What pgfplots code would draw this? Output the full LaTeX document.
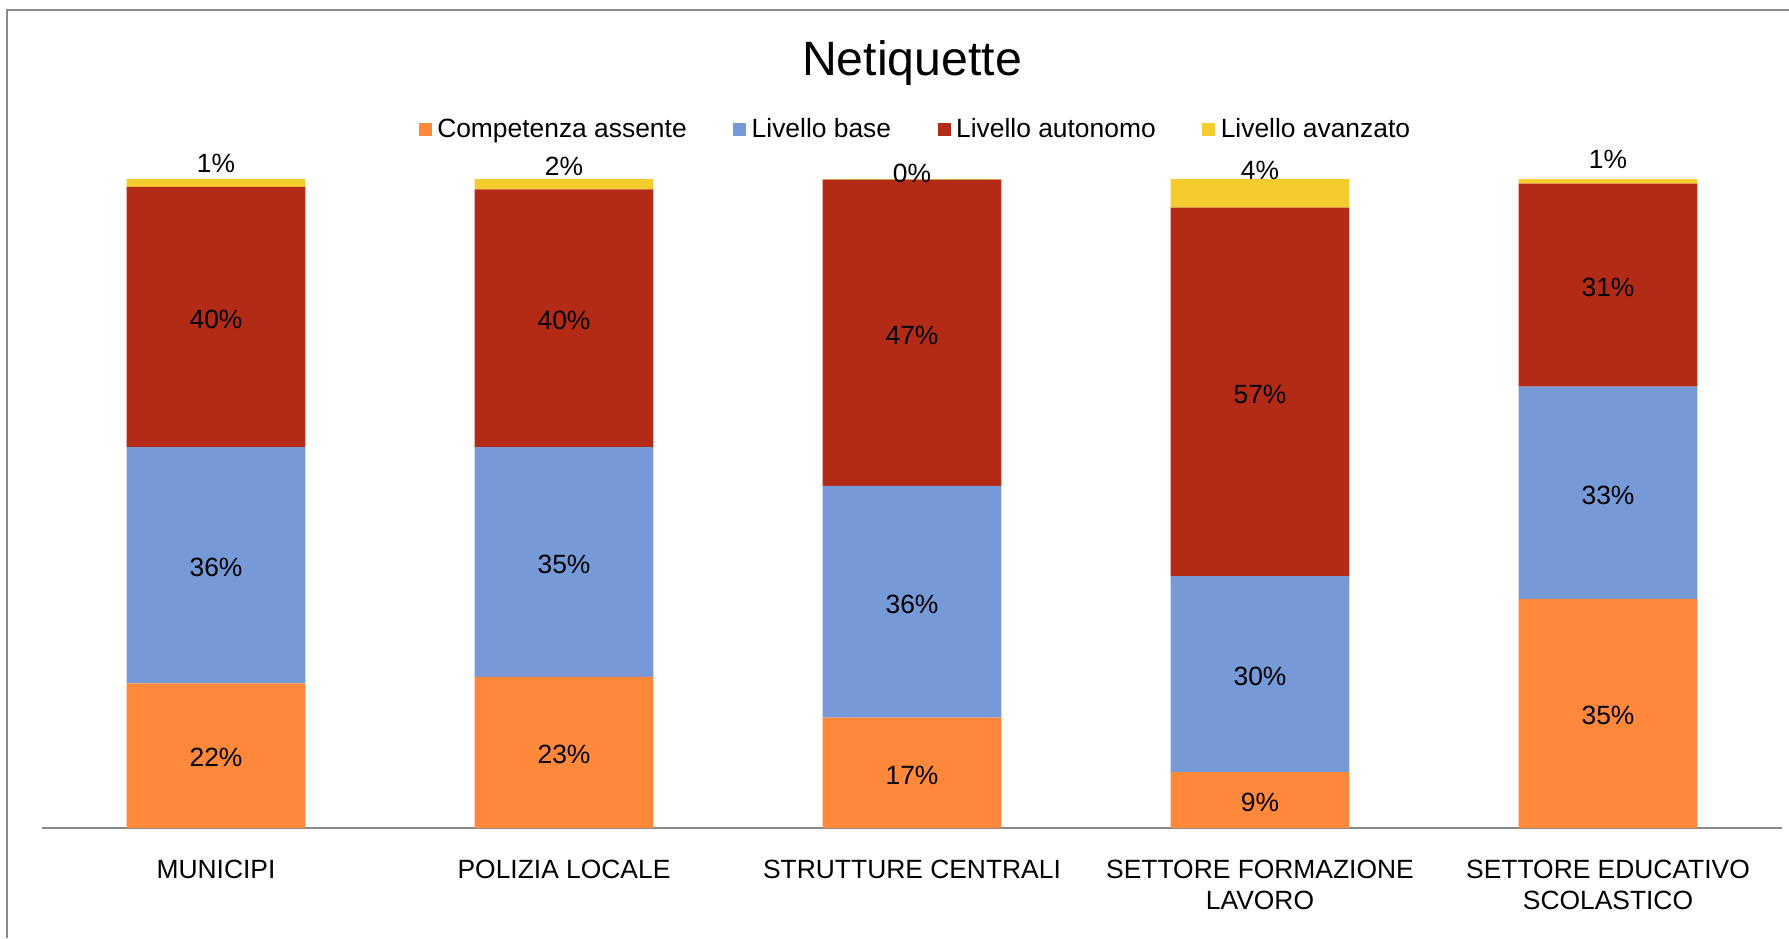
\documentclass[border=0pt]{standalone}
\usepackage{fontspec}
\setmainfont{Liberation Sans}
\usepackage{pgfplots}
\usepackage{pgfplotstable}
\pgfplotsset{compat=1.18}
\definecolor{cassente}{HTML}{FF883B}
\definecolor{cbase}{HTML}{7699D8}
\definecolor{cauto}{HTML}{B32B17}
\definecolor{cavanz}{HTML}{F4CC2E}
\definecolor{linegray}{HTML}{898989}

% x: category, a: assente, b: base, c: autonomo, d: avanzato
% dy: where the top label sits above the bar (pt)
\pgfplotstableread{
x a b c d dy
0 22.3 36.4 40.1 1.2 3.5
1 23.3 35.4 39.7 1.6 1.65
2 17.0 35.7 47.2 0.1 -1.5
3 8.6 30.2 56.8 4.4 -0.35
4 35.3 32.7 31.3 0.7 5.5
}\netiq

\begin{document}
\begin{tikzpicture}
\begin{axis}[
  at={(21pt,-414pt)}, anchor=south west,
  scale only axis, width=870pt, height=324.5pt,
  xmin=-0.5, xmax=4.5, ymin=0, ymax=100,
  ybar stacked, bar width=0.514,
  axis y line=none, axis x line*=bottom,
  x axis line style={-, draw=linegray, line width=1pt},
  xtick={0,...,4}, major tick length=0pt,
  xticklabels={MUNICIPI, POLIZIA LOCALE, STRUTTURE CENTRALI, {SETTORE FORMAZIONE\\LAVORO}, {SETTORE EDUCATIVO\\SCOLASTICO}},
  xticklabel style={align=center, font=\fontsize{13.2}{15.3}\selectfont, yshift=-12.6pt},
  title={Netiquette},
  title style={at={(0.5,1.141)}, anchor=base, font=\fontsize{24.1}{28}\selectfont},
  legend columns=4,
  legend style={at={(0.502,1.0765)}, anchor=center, draw=none, fill=none,
    font=\fontsize{13.2}{15}\selectfont, nodes={inner sep=1pt},
    /tikz/every even column/.append style={column sep=22.3pt}},
  legend image code/.code={\fill[#1] (0pt,-3.2pt) rectangle (6.5pt,3.2pt); \path (8.2pt,0pt);},
  point meta=explicit,
  /pgf/number format/assume math mode=true,
  nodes near coords={\pgfmathprintnumber[fixed,precision=0]{\pgfplotspointmeta}\%},
  nodes near coords style={font=\fontsize{13.2}{15}\selectfont, text=black, anchor=center, yshift=-1.1pt},
  clip=false,
]
\addplot[fill=cassente, draw=none] table[x=x, y=a, meta=a] {\netiq};
\addlegendentry{Competenza assente}
\addplot[fill=cbase, draw=none] table[x=x, y=b, meta=b] {\netiq};
\addlegendentry{Livello base}
\addplot[fill=cauto, draw=none] table[x=x, y=c, meta=c] {\netiq};
\addlegendentry{Livello autonomo}
% top labels sit just above the bar
\addplot[fill=cavanz, draw=none,
  visualization depends on={\thisrow{d}\as\rawy},
  visualization depends on={\thisrow{dy}\as\dy},
  nodes near coords style={anchor=base, inner sep=0pt, shift={(axis direction cs:0,\rawy/2)}, yshift=\dy pt+1.1pt}]
  table[x=x, y=d, meta=d] {\netiq};
\addlegendentry{Livello avanzato}
\end{axis}
\draw[linegray, line width=1pt] (3.5pt,-469pt) -- (3.5pt,-5pt) -- (894.5pt,-5pt);
\pgfresetboundingbox
\useasboundingbox (0,0) rectangle (894.5pt,-469pt);
\end{tikzpicture}
\end{document}
